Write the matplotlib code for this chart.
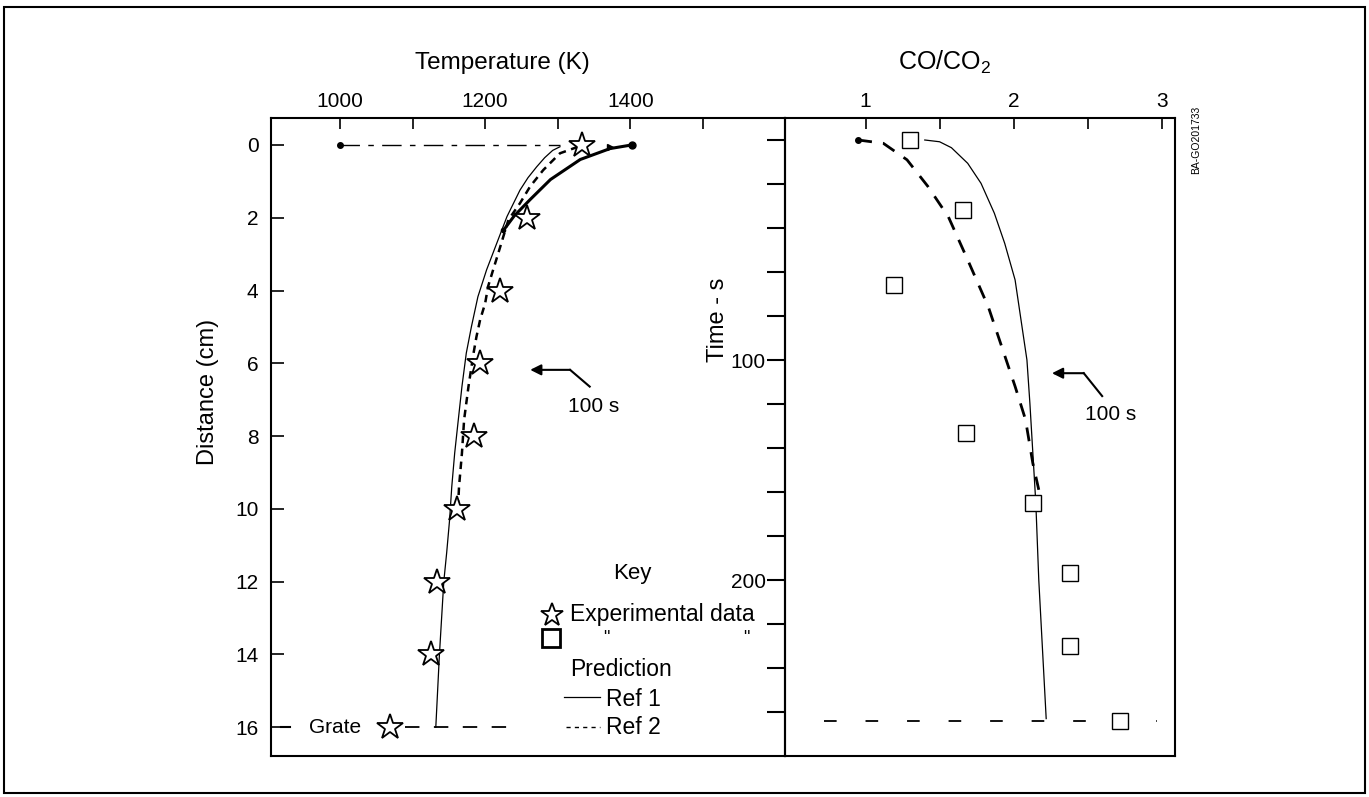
import matplotlib
matplotlib.use('Agg')
import matplotlib.pyplot as plt
from matplotlib.lines import Line2D
from matplotlib.patches import Rectangle

plt.rcParams['font.family'] = ['Liberation Sans', 'DejaVu Sans']
plt.rcParams['mathtext.fontset'] = 'custom'
plt.rcParams['mathtext.rm'] = 'Liberation Sans'

# ---------------- left panel: temperature profile ----------------
temp_ticks = [1000, 1100, 1200, 1300, 1400, 1500]
temp_labels = ['1000', '', '1200', '', '1400', '']
dist_ticks = [0, 2, 4, 6, 8, 10, 12, 14, 16]

exp_temp = [1333, 1258, 1220, 1193, 1184, 1161, 1133, 1125, 1069]
exp_dist = [0, 2, 4, 6, 8, 10, 12, 14, 16]

ref1_temp = [1303, 1293, 1282, 1271, 1259, 1248, 1230, 1216, 1202, 1190,
             1181, 1174, 1168, 1163, 1158, 1154, 1151, 1147, 1143, 1137, 1132]
ref1_dist = [0.05, 0.15, 0.35, 0.6, 0.9, 1.24, 1.97, 2.7, 3.43, 4.17,
             5.0, 5.72, 6.64, 7.55, 8.47, 9.39, 10.3, 11.2, 12.0, 14.0, 16.0]

ref2_temp = [1328, 1303, 1280, 1262, 1248, 1232, 1225, 1218, 1211, 1204,
             1200, 1193, 1188, 1184, 1177, 1171, 1168, 1164, 1163]
ref2_dist = [0.05, 0.23, 0.69, 1.14, 1.6, 2.06, 2.52, 2.98, 3.43, 3.89,
             4.35, 4.81, 5.27, 5.72, 6.64, 7.55, 8.47, 9.39, 9.8]

hot_temp = [1402, 1372, 1331, 1290, 1262, 1240, 1225]
hot_dist = [0, 0.1, 0.4, 0.95, 1.5, 1.95, 2.35]

feed_temp = [1000, 1303]
feed_dist = [0, 0]
grate_dist = 16

# ---------------- right panel: CO/CO2 vs time ----------------
ratio_ticks = [1, 1.5, 2, 2.5, 3]
ratio_labels = ['1', '', '2', '', '3']
time_ticks = list(range(0, 261, 20))
time_labels = [str(t) if t in (100, 200) else '' for t in time_ticks]

exp_ratio = [1.30, 1.66, 1.19, 1.68, 2.13, 2.38, 2.38, 2.72]
exp_time = [0, 32, 66, 133, 165, 197, 230, 264]

ref1_ratio = [1.40, 1.50, 1.58, 1.69, 1.78, 1.87, 1.94, 2.01, 2.05, 2.09,
              2.11, 2.13, 2.15, 2.17, 2.22]
ref1_time = [0, 0.8, 3.5, 10.6, 19.7, 33.3, 47, 63.6, 81.8, 100,
             119.7, 142.4, 165, 200, 263]

ref2_ratio = [0.95, 1.12, 1.28, 1.42, 1.56, 1.69, 1.83, 1.92, 2.01, 2.08,
              2.13, 2.17]
ref2_time = [0, 1.5, 9, 21, 35, 54.5, 76, 94, 112, 127, 147, 159]

grate_time = 264

# ---------------- layout ----------------
W, H = 1369, 797
fig = plt.figure(figsize=(W / 100, H / 100), dpi=100)
fig.patch.set_facecolor('white')

def fx(x):
    return x / W

def fy(y):
    return 1 - y / H

AX_TOP, AX_BOT = 118, 756
ax1 = fig.add_axes([fx(271), fy(AX_BOT), (785 - 271) / W, (AX_BOT - AX_TOP) / H])
ax2 = fig.add_axes([fx(785), fy(AX_BOT), (1175 - 785) / W, (AX_BOT - AX_TOP) / H])

FS = 15
LFS = 16.5

# left axes
ax1.set_xlim(905, 1613)
ax1.set_ylim(16.79, -0.74)
ax1.xaxis.tick_top()
ax1.set_xticks(temp_ticks)
ax1.set_xticklabels(temp_labels)
ax1.set_yticks(dist_ticks)
ax1.tick_params(axis='x', direction='in', length=8, width=1.2, pad=5, labelsize=FS)
ax1.tick_params(axis='y', direction='in', length=9, width=1.2, pad=9, labelsize=FS)
for s in ax1.spines.values():
    s.set_linewidth(1.5)

# feed line and hot line
ax1.plot(feed_temp, feed_dist, color='black', lw=1.0, dashes=(14, 6, 4, 6))
ax1.plot(feed_temp[:1], feed_dist[:1], 'o', color='black', ms=4)
ax1.plot(hot_temp, hot_dist, color='black', lw=2.2, solid_capstyle='round')
ax1.plot(hot_temp[:1], hot_dist[:1], 'o', color='black', ms=5)
ax1.plot(hot_temp[-1:], hot_dist[-1:], 'o', color='black', ms=3)
ax1.plot([1372], [0.07], '>', color='black', ms=5)

ax1.plot(ref1_temp, ref1_dist, color='black', lw=0.9)
ax1.plot(ref2_temp, ref2_dist, color='black', lw=1.8, dashes=(3, 2.2))

# grate
ax1.plot([919, 931], [grate_dist] * 2, color='black', lw=1.5)
ax1.plot([1090, 1232], [grate_dist] * 2, color='black', lw=1.3, dashes=(8, 8))
ax1.text(993, grate_dist, 'Grate', ha='center', va='center', fontsize=FS)

ax1.plot(exp_temp, exp_dist, linestyle='none', marker='*', ms=19,
         mfc='white', mec='black', mew=1.3, zorder=5)

# 100 s arrow (left)
ax1.plot([1344, 1317], [6.64, 6.18], color='black', lw=1.5)
ax1.annotate('', xy=(1262, 6.18), xytext=(1317, 6.18),
             arrowprops=dict(arrowstyle='-|>', lw=1.5, color='black',
                             mutation_scale=16, shrinkA=0, shrinkB=0))
ax1.text(1350, 7.2, '100 s', ha='center', va='center', fontsize=FS)

# right axes
ax2.set_xlim(0.456, 3.09)
ax2.set_ylim(280, -10)
ax2.xaxis.tick_top()
ax2.set_xticks(ratio_ticks)
ax2.set_xticklabels(ratio_labels)
ax2.set_yticks(time_ticks)
ax2.set_yticklabels(time_labels)
ax2.tick_params(axis='x', direction='in', length=8, width=1.2, pad=5, labelsize=FS)
ax2.tick_params(axis='y', direction='out', length=13, width=1.5, pad=1, labelsize=FS)
ax2.set_facecolor('none')
for s in ax2.spines.values():
    s.set_linewidth(1.5)

ax2.plot(ref1_ratio, ref1_time, color='black', lw=0.9)
ax2.plot(ref2_ratio, ref2_time, color='black', lw=2.0, dashes=(5, 4))
ax2.plot(ref2_ratio[:1], ref2_time[:1], 'o', color='black', ms=4)
ax2.plot([0.72, 2.97], [grate_time] * 2, color='black', lw=1.3, dashes=(7, 16))
ax2.plot(exp_ratio, exp_time, linestyle='none', marker='s', ms=12,
         mfc='white', mec='black', mew=1.0, zorder=5)

# 100 s arrow (right)
ax2.plot([2.598, 2.474], [116.4, 106], color='black', lw=1.5)
ax2.annotate('', xy=(2.259, 106), xytext=(2.474, 106),
             arrowprops=dict(arrowstyle='-|>', lw=1.5, color='black',
                             mutation_scale=16, shrinkA=0, shrinkB=0))
ax2.text(2.655, 125, '100 s', ha='center', va='center', fontsize=FS)

# axis titles
fig.text(fx(502), fy(63), 'Temperature (K)', ha='center', va='center', fontsize=17.5)
fig.text(fx(945), fy(62), 'CO/CO$_{\\mathregular{2}}$', ha='center', va='center', fontsize=18)
fig.text(fx(208), fy(392), 'Distance (cm)', ha='center', va='center', fontsize=17, rotation=90)
fig.text(fx(718), fy(320), 'Time - s', ha='center', va='center', fontsize=17, rotation=90)
fig.text(fx(1196), fy(140), 'BA-GO201733', ha='center', va='center', fontsize=7.5, rotation=90)

# key
fig.text(fx(632), fy(573), 'Key', ha='center', va='center', fontsize=16)
fig.add_artist(Line2D([fx(552)], [fy(615)], transform=fig.transFigure, marker='*', ms=17,
                      mfc='white', mec='black', mew=1.3, linestyle='none'))
fig.text(fx(570), fy(615), 'Experimental data', ha='left', va='center', fontsize=LFS)
fig.add_artist(Line2D([fx(551)], [fy(638)], transform=fig.transFigure, marker='s', ms=13,
                      mfc='white', mec='black', mew=2.0, linestyle='none'))
fig.text(fx(606), fy(639), '"', ha='center', va='center', fontsize=13)
fig.text(fx(746), fy(639), '"', ha='center', va='center', fontsize=13)
fig.text(fx(570), fy(669), 'Prediction', ha='left', va='center', fontsize=LFS)
fig.add_artist(Line2D([fx(564), fx(600)], [fy(697)] * 2, transform=fig.transFigure,
                      color='black', lw=0.9))
fig.text(fx(606), fy(700), 'Ref 1', ha='left', va='center', fontsize=LFS)
fig.add_artist(Line2D([fx(566), fx(600)], [fy(727)] * 2, transform=fig.transFigure,
                      color='black', lw=1.0, dashes=(3, 3)))
fig.text(fx(606), fy(727), 'Ref 2', ha='left', va='center', fontsize=LFS)

# outer frame
fig.add_artist(Rectangle((fx(4), fy(793)), (1365 - 4) / W, (793 - 7) / H,
                         transform=fig.transFigure, fill=False, lw=1.5, edgecolor='black'))

fig.savefig('out.png', dpi=100, facecolor='white')
